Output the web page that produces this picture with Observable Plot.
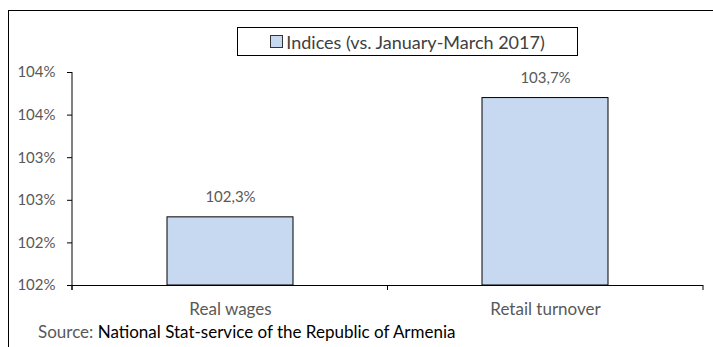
<!DOCTYPE html>
<html><head><meta charset="utf-8">
<script src="https://cdn.jsdelivr.net/npm/d3@7"></script>
<script src="https://cdn.jsdelivr.net/npm/@observablehq/plot@0.6"></script>
<style>
html,body{margin:0;padding:0;background:#fff}
body{width:713px;height:347px;overflow:hidden;position:relative;font-family:Lato,"Open Sans",sans-serif}
#frame{position:absolute;left:8px;top:10px;width:760px;height:400px;border:1.5px solid #000;box-sizing:border-box}
#chart{position:absolute;left:0;top:0}
#legend{position:absolute;left:237px;top:27px;width:341px;height:29px;border:1px solid #000;box-sizing:border-box;background:#fff;display:flex;align-items:center;justify-content:center;font-size:18px;color:#404040;white-space:nowrap}
#legend .sw{display:inline-block;width:11px;height:11px;background:#c6d9f0;border:1px solid #333;margin-right:3px}
#source{position:absolute;left:38px;top:321px;font-size:17px;line-height:22px;color:#000;white-space:nowrap}
#source .lab{color:#595959}
</style>
</head><body>
<div id="frame"></div>
<div id="chart"></div>
<div id="legend"><span class="sw"></span>Indices (vs. January-March 2017)</div>
<div id="source"><span class="lab">Source: </span>National Stat-service of the Republic of Armenia</div>
<script>
const categories = ["Real wages", "Retail turnover"];
const values = [102.3, 103.7];
const yTicks = [101.5, 102, 102.5, 103, 103.5, 104];
const seriesName = "Indices (vs. January-March 2017)";

const data = categories.map((c, i) => ({cat: c, value: values[i], label: values[i].toFixed(1).replace(".", ",") + "%"}));

const plot = Plot.plot({
  width: 713,
  height: 330,
  marginLeft: 72,
  marginRight: 10,
  marginTop: 72,
  marginBottom: 45,
  style: {fontFamily: "Lato, 'Open Sans', sans-serif", fontSize: "15px", color: "#595959", background: "transparent", overflow: "visible"},
  x: {domain: categories, paddingInner: 0.6, paddingOuter: 0.3, label: null},
  y: {domain: [101.5, 104], label: null},
  marks: [
    Plot.barY(data, {x: "cat", y1: 101.5, y2: "value", fill: "#c6d9f0", stroke: "#000", strokeWidth: 1}),
    Plot.text(data, {x: "cat", y: "value", text: "label", dy: -20, fill: "#595959", fontSize: 15}),
    Plot.axisY({ticks: yTicks, tickFormat: d => Math.round(d) + "%", tickSize: 5, tickPadding: 12, stroke: "#000", fill: "#595959", fontSize: 15, label: null}),
    Plot.axisX({tickSize: 0, tickPadding: 17, fill: "#595959", fontSize: 17, label: null}),
    Plot.ruleY([101.5], {stroke: "#000", strokeWidth: 1})
  ]
});
document.getElementById("chart").appendChild(plot);

// axis line and category boundary ticks derived from the plot's scales
const xs = plot.scale("x"), ys = plot.scale("y");
const svg = d3.select(plot);
const [x0, x1] = xs.range;
const yb = ys.apply(101.5), yt = ys.apply(104);
svg.append("line").attr("x1", x0).attr("x2", x0).attr("y1", yt).attr("y2", yb + 5).attr("stroke", "#000");
const bounds = [x0];
for (let i = 1; i <= categories.length; i++) bounds.push(x0 + i * (x1 - x0) / categories.length);
bounds.forEach(b => svg.append("line").attr("x1", b).attr("x2", b).attr("y1", yb).attr("y2", yb + 5).attr("stroke", "#000"));
</script>
</body></html>
